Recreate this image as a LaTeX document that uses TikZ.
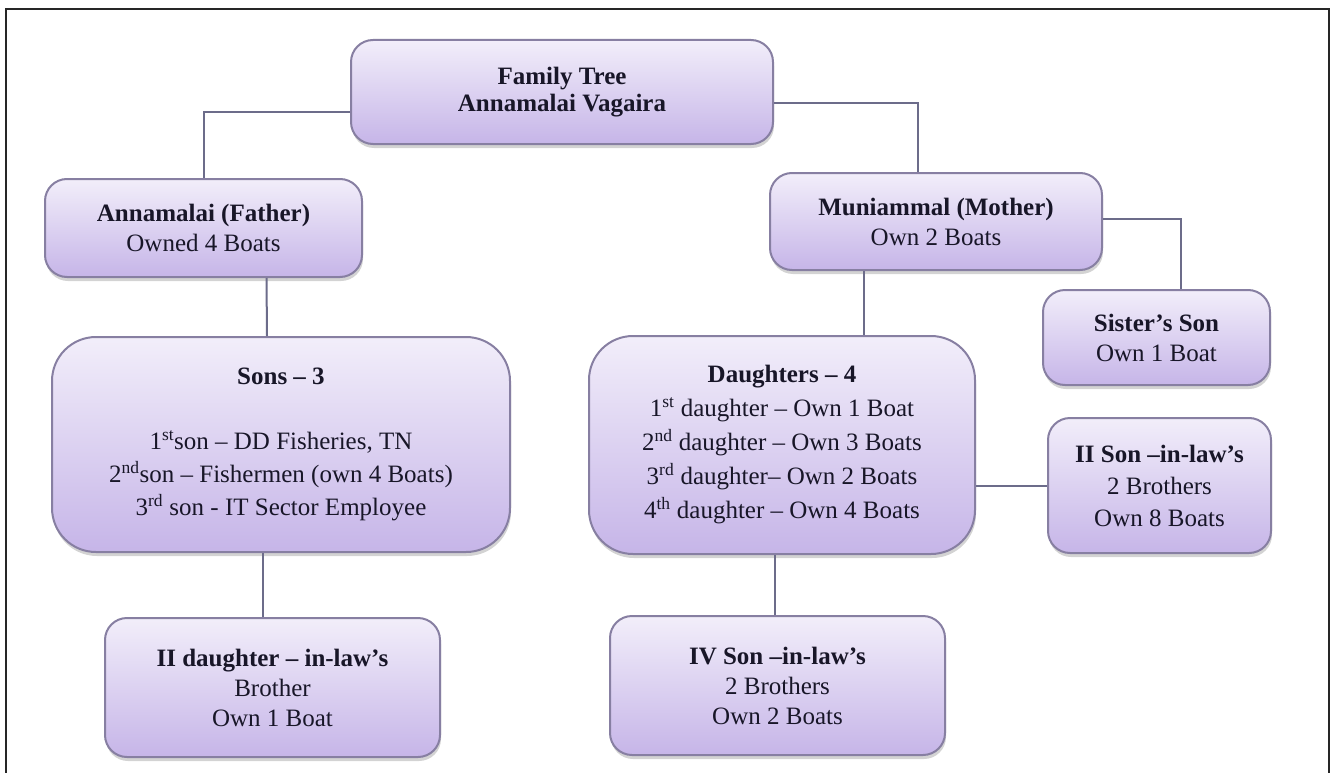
\documentclass[tikz,border=0pt]{standalone}
\usepackage{fontspec}
\setmainfont{Liberation Serif}
\usetikzlibrary{shadows}
\definecolor{boxtop}{RGB}{242,238,250}
\definecolor{boxbot}{RGB}{198,181,232}
\definecolor{boxline}{RGB}{135,127,162}
\definecolor{linkcol}{RGB}{108,108,138}
\definecolor{ink}{RGB}{24,22,40}
\tikzset{
  member/.style={draw=boxline, line width=2pt, rounded corners=22pt,
    top color=boxtop, bottom color=boxbot, align=center, text=ink, inner sep=0pt,
    font=\fontsize{25}{30}\selectfont,
    drop shadow={opacity=0.35, shadow xshift=1pt, shadow yshift=-4pt}},
  bigmember/.style={member, rounded corners=44pt},
  link/.style={draw=linkcol, line width=2pt}
}
\begin{document}
\begin{tikzpicture}[x=1pt, y=-1pt]
    \useasboundingbox (0,0) rectangle (1335,773);
    \draw[line width=2pt, black!85] (6,773) -- (6,9) -- (1329,9) -- (1329,773);

    \node[member, minimum width=422pt, minimum height=104pt, font=\fontsize{25}{27}\selectfont\bfseries] (tree) at (562,92) {Family Tree\\Annamalai Vagaira};
    \node[member, minimum width=317pt, minimum height=98pt] (father) at (203.5,228) {\textbf{Annamalai (Father)}\\Owned 4 Boats};
    \node[member, minimum width=332pt, minimum height=97pt] (mother) at (936,221.5) {\textbf{Muniammal (Mother)}\\Own 2 Boats};
    \node[member, minimum width=227pt, minimum height=95pt] (sister) at (1156.5,337.5) {\textbf{Sister’s Son}\\Own 1 Boat};
    \node[bigmember, minimum width=458pt, minimum height=215pt, font=\fontsize{25}{33}\selectfont] (sons) at (281,444.5) {\textbf{Sons – 3}\\[32pt]1\textsuperscript{st}son – DD Fisheries, TN\\2\textsuperscript{nd}son – Fishermen (own 4 Boats)\\3\textsuperscript{rd} son - IT Sector Employee};
    \node[bigmember, minimum width=386pt, minimum height=218pt, font=\fontsize{25}{34}\selectfont] (daughters) at (782,445) {\textbf{Daughters – 4}\\1\textsuperscript{st} daughter – Own 1 Boat\\2\textsuperscript{nd} daughter – Own 3 Boats\\3\textsuperscript{rd} daughter– Own 2 Boats\\4\textsuperscript{th} daughter – Own 4 Boats};
    \node[member, minimum width=223pt, minimum height=135pt, font=\fontsize{25}{32}\selectfont] (iisonlaw) at (1159.5,485.5) {\textbf{II Son –in-law’s}\\2 Brothers\\Own 8 Boats};
    \node[member, minimum width=335pt, minimum height=139pt] (iidaulaw) at (272.5,687.5) {\textbf{II daughter – in-law’s}\\Brother\\Own 1 Boat};
    \node[member, minimum width=335pt, minimum height=139pt] (ivsonlaw) at (777.5,685.5) {\textbf{IV Son –in-law’s}\\2 Brothers\\Own 2 Boats};

    \draw[link] ([yshift=-20pt]tree.west) -| (father.north);
    \draw[link] ([yshift=-11pt]tree.east) -| ([xshift=-18pt]mother.north);
    \draw[link] ([yshift=3pt]mother.east) -| ([xshift=24.5pt]sister.north);
    \draw[link] ([xshift=63pt]father.south) -- ([xshift=-14pt]sons.north);
    \draw[link] ([xshift=-72pt]mother.south) -- ([xshift=82pt]daughters.north);
    \draw[link] ([xshift=-18pt]sons.south) -- ([xshift=-9.5pt]iidaulaw.north);
    \draw[link] ([xshift=-7pt]daughters.south) -- ([xshift=-2.5pt]ivsonlaw.north);
    \draw[link] (daughters.east |- iisonlaw.west) -- (iisonlaw.west);
\end{tikzpicture}
\end{document}
